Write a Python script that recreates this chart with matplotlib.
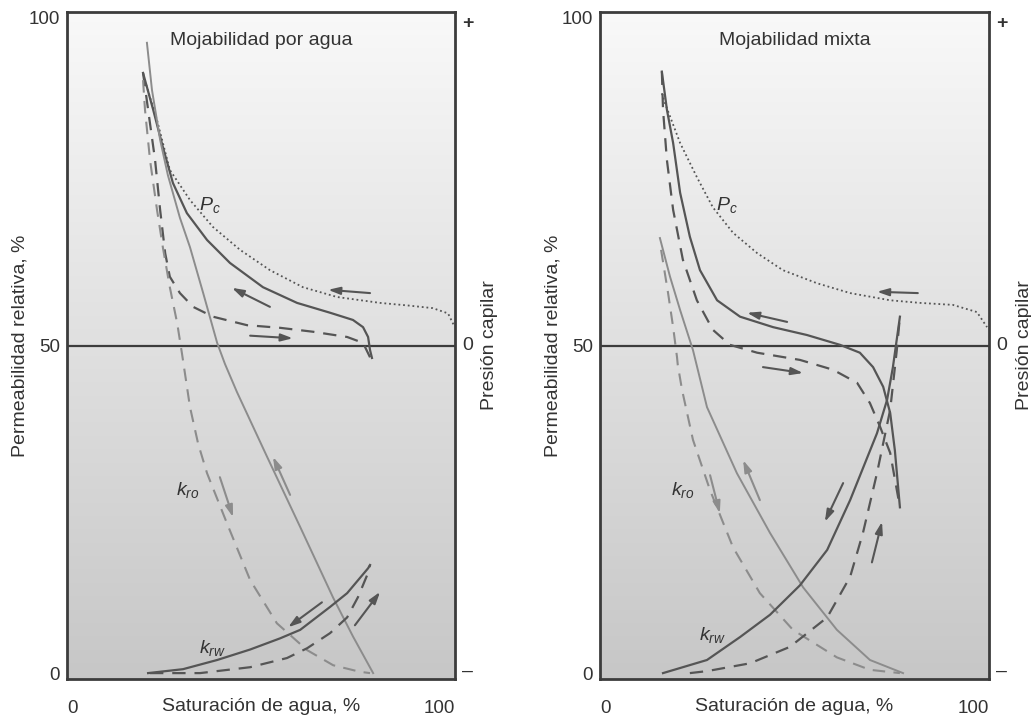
import numpy as np
import matplotlib
matplotlib.use("Agg")
import matplotlib.pyplot as plt
from matplotlib import font_manager
from matplotlib.transforms import blended_transform_factory


def pick_font(names):
    for n in names:
        try:
            font_manager.findfont(font_manager.FontProperties(family=n), fallback_to_default=False)
            return n
        except Exception:
            continue
    return "DejaVu Sans"


FONT = pick_font(["Liberation Sans Narrow", "DejaVu Sans Condensed", "Liberation Sans"])
plt.rcParams['font.family'] = [FONT, 'DejaVu Sans']
plt.rcParams['mathtext.fontset'] = 'custom'
plt.rcParams['mathtext.it'] = FONT + ':italic'
plt.rcParams['mathtext.rm'] = FONT

# ---------------- data: water-wet panel ----------------
ww_pc_drain_x = [20.4, 23.2, 26.5, 31.7, 37.6, 44.6, 52.3, 60.8, 69.6, 80.7, 88.0, 94.3, 98.2, 99.7]
ww_pc_drain_y = [89.8, 84.4, 76.8, 72.2, 68.1, 64.6, 61.5, 58.9, 57.4, 56.5, 56.1, 55.7, 54.9, 53.1]

ww_pc_sec_x = [19.6, 22.2, 24.7, 27.3, 30.9, 36.1, 42.0, 50.5, 59.3, 67.8, 73.7, 76.3, 77.6, 78.1, 78.6]
ww_pc_sec_y = [91.6, 86.0, 80.3, 74.8, 70.2, 66.1, 62.6, 58.9, 56.5, 55.0, 53.9, 52.8, 51.3, 49.3, 48.1]

ww_pc_imb_x = [19.6, 20.9, 22.7, 24.0, 25.3, 26.5, 29.1, 32.5, 37.6, 46.4, 54.9, 63.4, 72.2, 76.3, 78.1]
ww_pc_imb_y = [91.6, 86.0, 78.3, 70.7, 64.1, 60.5, 58.0, 55.9, 54.4, 53.1, 52.7, 52.1, 51.3, 50.4, 48.2]

ww_kro_x = [20.6, 21.9, 24.0, 26.0, 29.1, 31.7, 35.1, 38.7, 40.7, 43.8, 51.5, 60.1, 68.6, 73.7, 78.9]
ww_kro_y = [96.2, 89.0, 81.4, 76.0, 69.5, 65.0, 58.0, 50.4, 47.2, 42.9, 33.1, 22.3, 11.5, 5.6, 0.0]

ww_kro_d_x = [19.6, 20.1, 21.4, 23.2, 24.7, 26.5, 28.4, 29.6, 31.7, 33.8, 36.1, 41.2, 47.2, 54.1, 61.9, 68.6, 75.5, 78.1]
ww_kro_d_y = [90.5, 86.0, 78.3, 70.7, 65.0, 58.9, 53.4, 48.9, 40.6, 35.0, 30.5, 22.9, 14.2, 7.6, 3.5, 1.2, 0.2, 0.0]

ww_krw_x = [20.9, 29.9, 38.7, 47.2, 54.9, 60.1, 67.8, 72.2, 77.6, 78.1]
ww_krw_y = [0.0, 0.6, 2.0, 3.6, 5.3, 6.6, 10.1, 12.2, 16.0, 16.5]

ww_krw_d_x = [21.4, 34.3, 47.2, 56.7, 61.9, 67.8, 72.2, 75.0, 77.6, 78.1]
ww_krw_d_y = [0.0, 0.0, 0.9, 2.3, 3.8, 6.1, 8.5, 11.6, 15.3, 16.5]

# ---------------- data: mixed-wet panel ----------------
mw_pc_drain_x = [15.9, 16.7, 20.6, 24.9, 29.0, 34.2, 40.4, 47.0, 55.8, 64.3, 74.6, 82.3, 90.7, 96.9, 99.5]
mw_pc_drain_y = [88.5, 87.0, 80.9, 75.7, 71.1, 67.2, 64.1, 61.5, 59.5, 58.0, 56.9, 56.5, 56.2, 55.1, 52.8]

mw_pc_sec_x = [15.9, 17.2, 18.8, 20.6, 23.1, 25.7, 30.1, 36.0, 44.5, 53.2, 61.7, 66.8, 70.2, 72.8, 74.6, 75.8, 77.1]
mw_pc_sec_y = [91.8, 86.0, 80.9, 73.3, 66.6, 61.5, 56.9, 54.4, 52.8, 51.6, 50.1, 48.9, 46.7, 43.7, 39.7, 34.0, 25.3]

mw_pc_imb_x = [15.9, 16.2, 17.2, 18.8, 21.3, 24.9, 29.0, 33.4, 40.4, 51.4, 59.9, 66.1, 69.4, 72.0, 74.6, 77.1]
mw_pc_imb_y = [91.8, 86.0, 78.3, 70.7, 63.1, 56.9, 52.4, 50.1, 48.9, 47.8, 46.3, 44.3, 41.2, 37.6, 33.6, 25.3]

mw_kro_x = [15.4, 18.0, 20.6, 23.9, 27.5, 35.2, 43.7, 52.2, 60.9, 69.4, 77.9]
mw_kro_y = [66.4, 60.5, 55.4, 49.3, 40.6, 30.5, 21.4, 13.1, 6.6, 2.0, 0.0]

mw_kro_d_x = [15.7, 17.5, 18.8, 19.8, 20.0, 21.1, 23.9, 28.3, 34.2, 41.1, 49.6, 60.9, 69.4, 77.1]
mw_kro_d_y = [64.6, 58.0, 52.8, 48.2, 47.0, 43.2, 35.6, 27.9, 19.2, 12.2, 6.6, 2.4, 0.5, 0.0]

mw_krw_x = [16.2, 27.5, 36.0, 43.7, 51.4, 58.4, 64.3, 71.2, 73.8, 75.3, 77.1]
mw_krw_y = [0.0, 2.0, 5.5, 8.9, 13.4, 18.8, 26.4, 36.6, 41.7, 46.7, 54.4]

mw_krw_d_x = [23.1, 27.5, 38.6, 48.8, 58.4, 64.3, 67.6, 71.2, 74.6, 76.3, 77.1]
mw_krw_d_y = [0.0, 0.3, 1.5, 4.0, 8.5, 14.7, 21.4, 30.5, 40.2, 49.3, 54.4]

titles = ["Mojabilidad por agua", "Mojabilidad mixta"]
xlabel = "Saturación de agua, %"
ylabel_left = "Permeabilidad relativa, %"
ylabel_right = "Presión capilar"
yticks = [0, 50, 100]
yticklabels = ["0", "50", "100"]
right_labels = ["+", "0", "–"]
xticklabels = ["0", "100"]

DARK = "#555555"
LIGHT = "#8c8c8c"
FRAME = "#3c3c3c"
TXT = "#333333"
FS = 14

fig = plt.figure(figsize=(10.31, 7.19), dpi=100)
fig.patch.set_facecolor("white")
axL = fig.add_axes([67 / 1031, 1 - 679 / 719, 388 / 1031, 667 / 719])
axR = fig.add_axes([600 / 1031, 1 - 679 / 719, 389 / 1031, 667 / 719])

# vertical gradient: near white at top, grey at bottom
g = np.linspace(0.975, 0.78, 256).reshape(-1, 1)
grad_rgb = np.dstack([g, g, g])


def setup(ax, title):
    ax.set_xlim(0, 100)
    ax.set_ylim(-0.9, 100.9)
    ax.imshow(grad_rgb, extent=[0, 1, 0, 1], transform=ax.transAxes,
              aspect="auto", zorder=0, origin="upper", interpolation="bilinear")
    for s in ax.spines.values():
        s.set_color(FRAME)
        s.set_linewidth(2.0)
    ax.axhline(50, color=FRAME, lw=1.6, zorder=2)
    ax.set_yticks(yticks)
    ax.set_yticklabels(yticklabels, fontsize=13.5, color=TXT)
    ax.tick_params(axis="y", length=0, pad=5)
    ax.set_xticks([0, 100])
    ax.set_xticklabels(xticklabels, fontsize=13.5, color=TXT)
    ax.tick_params(axis="x", length=0, pad=15)
    lbls = ax.get_xticklabels()
    lbls[0].set_ha("left")
    lbls[1].set_ha("right")
    ax.set_xlabel(xlabel, fontsize=FS, color=TXT)
    ax.xaxis.set_label_coords(0.5, -0.029)
    ax.set_ylabel(ylabel_left, fontsize=FS, color=TXT, va="center")
    ax.yaxis.set_label_coords(-0.122, 0.5)
    tr = blended_transform_factory(ax.transAxes, ax.transData)
    for v, t in zip([99.2, 50, 0.3], right_labels):
        ax.text(1.018, v, t, transform=tr, fontsize=FS, color=TXT,
                ha="left", va="center", fontweight="bold" if t == "+" else "normal")
    ax.text(1.09, 0.5, ylabel_right, transform=ax.transAxes, rotation=90,
            fontsize=FS, color=TXT, ha="center", va="center")
    ax.text(50, 96.6, title, fontsize=FS, color=TXT, ha="center", va="center")


def arrow(ax, x0, y0, x1, y1, color):
    ax.annotate("", xy=(x1, y1), xytext=(x0, y0),
                arrowprops=dict(arrowstyle="-|>,head_length=0.7,head_width=0.22",
                                color=color, lw=1.5, shrinkA=0, shrinkB=0),
                zorder=4)


def draw(ax, d):
    ax.plot(d["pcd_x"], d["pcd_y"], color=DARK, lw=1.3, ls=(0, (1, 1.6)), zorder=3)
    ax.plot(d["pcs_x"], d["pcs_y"], color=DARK, lw=1.6, zorder=3)
    ax.plot(d["pci_x"], d["pci_y"], color=DARK, lw=1.6, ls=(0, (6, 4)), zorder=3)
    ax.plot(d["kro_x"], d["kro_y"], color=LIGHT, lw=1.4, zorder=3)
    ax.plot(d["krod_x"], d["krod_y"], color=LIGHT, lw=1.5, ls=(0, (6, 4)), zorder=3)
    ax.plot(d["krw_x"], d["krw_y"], color=DARK, lw=1.6, zorder=3)
    ax.plot(d["krwd_x"], d["krwd_y"], color=DARK, lw=1.6, ls=(0, (6, 4)), zorder=3)


setup(axL, titles[0])
setup(axR, titles[1])

draw(axL, dict(pcd_x=ww_pc_drain_x, pcd_y=ww_pc_drain_y, pcs_x=ww_pc_sec_x, pcs_y=ww_pc_sec_y,
               pci_x=ww_pc_imb_x, pci_y=ww_pc_imb_y, kro_x=ww_kro_x, kro_y=ww_kro_y,
               krod_x=ww_kro_d_x, krod_y=ww_kro_d_y, krw_x=ww_krw_x, krw_y=ww_krw_y,
               krwd_x=ww_krw_d_x, krwd_y=ww_krw_d_y))
draw(axR, dict(pcd_x=mw_pc_drain_x, pcd_y=mw_pc_drain_y, pcs_x=mw_pc_sec_x, pcs_y=mw_pc_sec_y,
               pci_x=mw_pc_imb_x, pci_y=mw_pc_imb_y, kro_x=mw_kro_x, kro_y=mw_kro_y,
               krod_x=mw_kro_d_x, krod_y=mw_kro_d_y, krw_x=mw_krw_x, krw_y=mw_krw_y,
               krwd_x=mw_krw_d_x, krwd_y=mw_krw_d_y))

# arrows left
arrow(axL, 78.1, 58.0, 67.3, 58.5, DARK)
arrow(axL, 52.3, 55.9, 42.5, 58.8, DARK)
arrow(axL, 47.2, 51.5, 58.2, 51.1, DARK)
arrow(axL, 57.5, 27.2, 53.1, 33.0, LIGHT)
arrow(axL, 39.4, 29.9, 42.8, 23.8, LIGHT)
arrow(axL, 65.7, 10.8, 57.0, 7.0, DARK)
arrow(axL, 74.2, 7.3, 80.7, 12.4, DARK)
# arrows right
arrow(axR, 81.7, 58.0, 71.2, 58.2, DARK)
arrow(axR, 48.1, 53.6, 37.8, 55.0, DARK)
arrow(axR, 41.9, 46.7, 52.2, 45.8, DARK)
arrow(axR, 41.1, 26.4, 36.8, 32.5, LIGHT)
arrow(axR, 28.3, 30.2, 30.8, 24.4, LIGHT)
arrow(axR, 62.5, 29.0, 57.8, 23.1, DARK)
arrow(axR, 69.9, 16.9, 72.5, 23.1, DARK)

# curve labels
for ax, pc, kro, krw in [(axL, (36.9, 71.5), (31.2, 27.9), (37.6, 3.8)),
                         (axR, (32.6, 71.5), (21.3, 27.9), (28.8, 5.8))]:
    ax.text(*pc, r"$P_c$", fontsize=FS, color=TXT, ha="center", va="center")
    ax.text(*kro, r"$k_{ro}$", fontsize=FS, color=TXT, ha="center", va="center")
    ax.text(*krw, r"$k_{rw}$", fontsize=FS, color=TXT, ha="center", va="center")

fig.savefig("out.png", dpi=100)
